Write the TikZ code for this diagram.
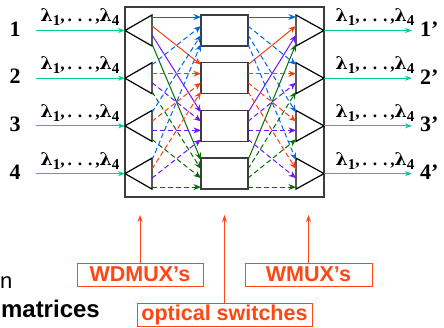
\documentclass[tikz,border=0pt]{standalone}
\usepackage{fontspec}
\setmainfont{Liberation Serif}
\newfontfamily\arialfont{Liberation Sans}
\newfontfamily\lamfont{DejaVu Serif}
\usetikzlibrary{arrows.meta}

\definecolor{lamblue}{RGB}{0,102,230}
\definecolor{lamred}{RGB}{255,60,20}
\definecolor{lampurple}{RGB}{110,20,255}
\definecolor{lamgreen}{RGB}{0,110,0}
\definecolor{fibre}{RGB}{0,204,153}
\definecolor{tagred}{RGB}{255,70,20}
\definecolor{framegray}{RGB}{60,60,60}

\newcommand{\lamsub}[1]{\raisebox{-4pt}{\fontsize{15}{15}\selectfont #1}}
\newcommand{\wavelist}{{\lamfont λ}\lamsub{1},\,.\,\,.\,\,.\,,{\lamfont λ}\lamsub{4}}

\tikzset{
  sig/.style={line width=1pt,-{Stealth[length=7.5pt,width=6pt]}},
  dsh/.style={dash pattern=on 5pt off 3pt},
  fibrearrow/.style={fibre,line width=1pt,-{Stealth[length=7pt,width=5pt]}},
  swbox/.style={draw=framegray,line width=1.5pt,fill=white,minimum width=47pt,minimum height=31pt,inner sep=0pt},
  tag/.style={draw=tagred,line width=1pt,fill=white,text=tagred,font=\arialfont\bfseries\fontsize{21.5}{23}\selectfont,minimum height=23pt,inner sep=0pt},
  tagarrow/.style={tagred,line width=1pt,-{Stealth[length=7pt,width=5pt]}},
  wavelbl/.style={font=\bfseries\fontsize{17.5}{19}\selectfont,inner sep=0pt},
  portlbl/.style={font=\bfseries\fontsize{22}{24}\selectfont,inner sep=0pt}
}

\begin{document}
\begin{tikzpicture}[x=1pt,y=-1pt]
  \useasboundingbox (0,0) rectangle (444,327);

  % the switching node
  \draw [line width=1.5pt,color=framegray] (125,7) rectangle (324,197);

  % ports, demux and mux triangles, switch boxes
  \foreach \i in {1,...,4} {
    \pgfmathsetmacro{\rtop}{15+47.7*(\i-1)}
    \pgfmathsetmacro{\rmid}{\rtop+15.5}
    \node [swbox] (sw\i) at (224.5,\rmid) {};
    \coordinate (dtip\i) at (125,\rmid);
    \coordinate (mtip\i) at (324,\rmid);
    \draw [line width=1.2pt] (dtip\i) -- (152,\rtop) -- (152,\rtop+31) -- cycle;
    \draw [line width=1.2pt] (mtip\i) -- (296,\rtop) -- (296,\rtop+31) -- cycle;
    \coordinate (src\i) at (36,\rmid);
    \coordinate (dst\i) at (412,\rmid);
    \draw [fibrearrow] (src\i) -- (dtip\i);
    \draw [fibrearrow] (mtip\i) -- (dst\i);
    \node [portlbl] (pin\i) at (15,\rmid-1.5) {\i};
    \node [portlbl,anchor=west] (pout\i) at (420,\rmid-1.5) {\i’};
    \node [wavelbl] (lin\i) at (80,\rmid-13) {\wavelist};
    \node [wavelbl] (lout\i) at (375,\rmid-13) {\wavelist};
  }

  % demux -> switches -> mux, one colour per wavelength
  \foreach \i in {1,...,4} {
    \foreach \k/\col in {1/lamblue,2/lamred,3/lampurple,4/lamgreen} {
      \ifnum\i=1 \def\lsty{solid}\else\def\lsty{dsh}\fi
      \coordinate (dm\i\k) at (152,{15+47.7*(\i-1)+2+9*(\k-1)});
      \coordinate (sin\k\i) at (201,{15+47.7*(\k-1)+2+9*(\i-1)});
      \draw [sig,\col,\lsty] (dm\i\k) -- (sin\k\i);
      \coordinate (sout\k\i) at (248,{15+47.7*(\k-1)+2+9*(\i-1)});
      \coordinate (mx\i\k) at (296,{15+47.7*(\i-1)+2+9*(\k-1)});
      \draw [sig,\col,\lsty] (sout\k\i) -- (mx\i\k);
    }
  }

  % labels below
  \node [tag,minimum width=126pt] (wdmux) at (140,274.5) {WDMUX’s};
  \node [tag,minimum width=127pt] (wmux) at (308.5,274.5) {WMUX’s};
  \node [tag,minimum width=175pt] (optsw) at (224.5,314.5) {optical switches};
  \coordinate (wdmuxtip) at (140,215);
  \coordinate (wmuxtip) at (308.5,215);
  \coordinate (optswtip) at (224.5,215);
  \draw [tagarrow] (wdmux) -- (wdmuxtip);
  \draw [tagarrow] (wmux) -- (wmuxtip);
  \draw [tagarrow] (optsw) -- (optswtip);

  \node [anchor=base west,inner sep=0pt,font=\arialfont\fontsize{22}{24}\selectfont] (wordn) at (0,288) {n};
  \node [anchor=base east,inner sep=0pt,font=\arialfont\bfseries\fontsize{24}{26}\selectfont] (wordmat) at (100,317) {matrices};
\end{tikzpicture}
\end{document}
